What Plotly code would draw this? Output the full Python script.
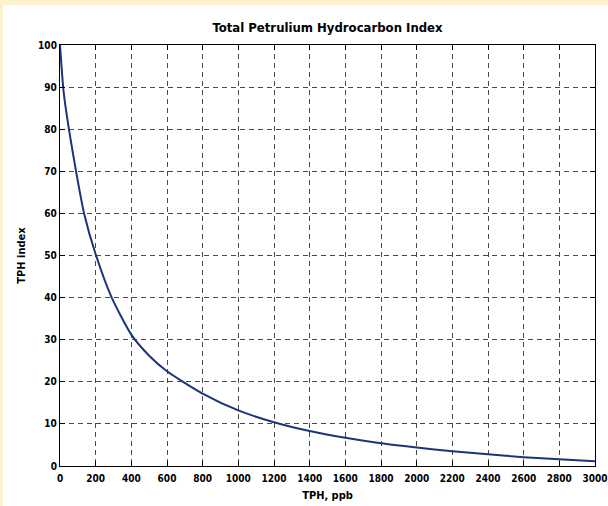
import plotly.graph_objects as go

tph_ppb = [0, 20, 50, 90, 135, 200, 290, 400, 500, 600, 800, 1000, 1200, 1400,
           1600, 1800, 2000, 2200, 2400, 2600, 2800, 3000]
tph_index = [100, 89, 80, 70, 60, 50.3, 40, 31.2, 26.2, 22.5, 17.2, 13.2, 10.4, 8.3,
             6.7, 5.4, 4.4, 3.5, 2.8, 2.1, 1.6, 1.1]

x_ticks = list(range(0, 3001, 200))
y_ticks = list(range(0, 101, 10))

font_family = "DejaVu Sans Condensed, Liberation Sans Narrow, Arial Narrow, Liberation Sans"

fig = go.Figure()
fig.add_trace(go.Scatter(
    x=tph_ppb, y=tph_index, mode="lines",
    line=dict(color="#1b3579", width=2, shape="spline", smoothing=0.6),
    hoverinfo="skip", showlegend=False,
))

axis_common = dict(
    showline=True, linecolor="black", linewidth=1.2, mirror="ticks",
    ticks="inside", ticklen=5, tickcolor="black",
    showgrid=True, gridcolor="#4a4a4a", gridwidth=1, griddash="5px,4px",
    zeroline=False,
    tickfont=dict(family=font_family, size=10, color="black", weight="bold"),
)

fig.update_xaxes(range=[0, 3000], tickvals=x_ticks, **axis_common, ticklabelstandoff=3,
                 title=dict(text="<b>TPH, ppb</b>", standoff=8,
                            font=dict(family=font_family, size=11, color="black")))
fig.update_yaxes(range=[0, 100], tickvals=y_ticks, **axis_common,
                 title=dict(text="<b>TPH index</b>", standoff=10,
                            font=dict(family=font_family, size=11, color="black")))

fig.update_layout(
    width=608, height=506,
    margin=dict(l=60, r=13, t=45, b=40, autoexpand=False),
    paper_bgcolor="white", plot_bgcolor="white",
    title=dict(text="<b>Total Petrulium Hydrocarbon Index</b>", x=(327.5) / 608, xanchor="center",
               xref="container", y=1 - 27 / 506, yanchor="middle",
               font=dict(family=font_family, size=13, color="black")),
    shapes=[
        dict(type="rect", xref="paper", yref="paper", x0=-60 / 535, x1=1 + 13 / 535,
             y0=461 / 421, y1=466 / 421, fillcolor="#fdf1d0", line=dict(width=0), layer="below"),
        dict(type="rect", xref="paper", yref="paper", x0=-60 / 535, x1=-57 / 535,
             y0=-40 / 421, y1=466 / 421, fillcolor="#fdf1d0", line=dict(width=0), layer="below"),
    ],
)

fig.write_html("out.html", config={"displayModeBar": False},
               post_script="document.body.style.margin='0';document.body.style.overflow='hidden';")
